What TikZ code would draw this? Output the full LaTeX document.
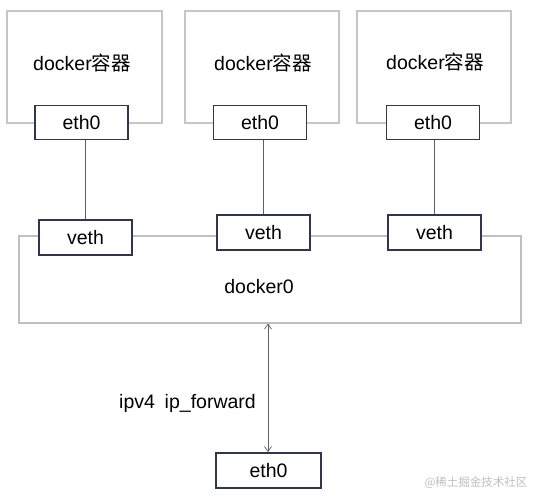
\documentclass[tikz,border=0pt]{standalone}
\usepackage{fontspec}
\setmainfont{Liberation Sans}
\newfontfamily\cjk{Noto Sans CJK SC}
\usetikzlibrary{arrows.meta}
\begin{document}
\begin{tikzpicture}[x=1pt,y=-1pt,
  container/.style={draw=gray!45,line width=1.6pt,fill=white,inner sep=0pt},
  port/.style={draw=black!80!blue!60!gray,line width=1.8pt,fill=white,minimum width=93pt,minimum height=34pt,inner sep=0pt,font=\fontsize{19.5}{21}\selectfont},
  bridge/.style={draw=gray!50,line width=1.6pt,inner sep=0pt},
  link/.style={draw=gray!75!black,line width=0.7pt},
  lbl/.style={font=\fontsize{19.5}{21}\selectfont,inner sep=0pt},
  mark/.style={}]
\useasboundingbox[fill=white] (0,0) rectangle (540,503);
% containers
\node[container,minimum width=155pt,minimum height=112pt] (c1) at (84.5,67) {};
\node[container,minimum width=154pt,minimum height=112pt] (c2) at (262,67) {};
\node[container,minimum width=154pt,minimum height=112pt] (c3) at (434,67) {};
\node[lbl] (t1) at (82,63) {docker{\cjk 容器}};
\node[lbl] (t2) at (263,63) {docker{\cjk 容器}};
\node[lbl] (t3) at (435,62) {docker{\cjk 容器}};
% docker0 bridge
\node[bridge,minimum width=502pt,minimum height=87pt] (br) at (270,279.5) {};
\node[lbl] (bt) at (259,287) {docker0};
% eth0 ports
\node[port] (e1) at (81.5,122.5) {eth0};
\node[port] (e2) at (260,122.5) {eth0};
\node[port] (e3) at (433,122.5) {eth0};
% veth ports
\node[port,minimum height=35pt] (v1) at (85.5,237.5) {veth};
\node[port,minimum height=35pt] (v2) at (263.5,232.5) {veth};
\node[port,minimum height=35pt] (v3) at (434.5,232.5) {veth};
% host eth0
\node[port,minimum width=105pt,minimum height=35pt] (he) at (268.5,470.5) {eth0};
% links
\draw[link] (v1.north) -- (v1.north |- e1.south);
\draw[link] (v2.north) -- (v2.north |- e2.south);
\draw[link] (v3.north) -- (v3.north |- e3.south);
\coordinate (ab) at (268,323.5);
\draw[link,{Straight Barb[length=5pt,width=7pt]}-{Straight Barb[length=5pt,width=7pt]}] (ab) -- (ab |- he.north);
\node[lbl,anchor=east] (fw) at (256,403) {ipv4\hspace{0.5em}ip\_forward};
% watermark
\node[font=\cjk\fontsize{11.5}{13}\selectfont,text=gray!50,inner sep=0pt] (wm) at (476,483) {@稀土掘金技术社区};
\end{tikzpicture}
\end{document}
